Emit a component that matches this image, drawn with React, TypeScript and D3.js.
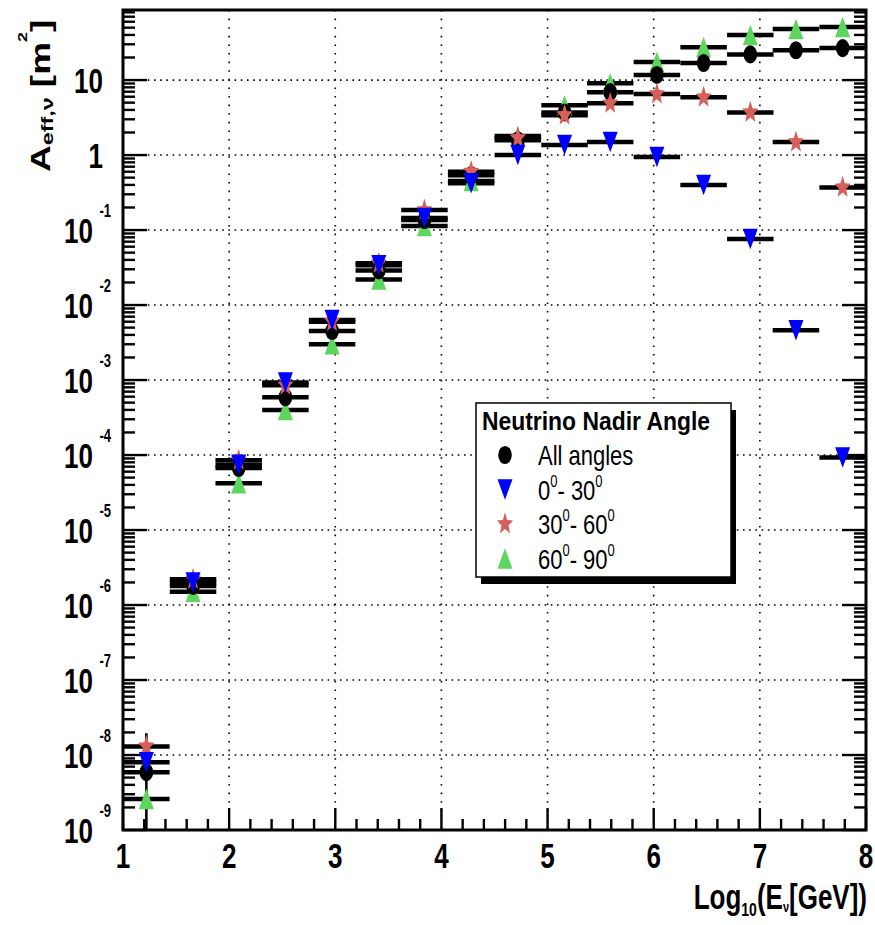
import React from "react";
import * as d3 from "d3";

// log10(E/GeV) bin centres, 16 bins between 1 and 8
const binCenters = [1.22, 1.66, 2.09, 2.53, 2.97, 3.41, 3.84, 4.28, 4.72, 5.16, 5.59, 6.03, 6.47, 6.91, 7.34, 7.78];
const binHalfWidth = 0.219;

// effective area [m^2]
const allAngles = [5.9e-9, 1.8e-6, 6.7e-5, 5.9e-4, 4.5e-3, 0.029, 0.136, 0.54, 1.58, 3.7, 6.9, 11.7, 16.9, 22, 25, 26.7];
const nadir0to30 = [8e-9, 2.0e-6, 7.4e-5, 9.3e-4, 6.3e-3, 0.034, 0.145, 0.42, 1.0, 1.36, 1.49, 0.94, 0.4, 0.076, 4.6e-3, 9.3e-5];
const nadir30to60 = [1.3e-8, 2.2e-6, 8.5e-5, 8.5e-4, 6.0e-3, 0.036, 0.185, 0.6, 1.69, 3.4, 4.9, 6.5, 5.9, 3.7, 1.49, 0.37];
const nadir60to90 = [2.6e-9, 1.5e-6, 4.2e-5, 4.0e-4, 3.0e-3, 0.022, 0.113, 0.45, 1.8, 4.6, 9.1, 17.4, 27.5, 40, 48, 51];

// vertical error bar visible on the first bin of "All angles"
const allErrBins = [{ bin: 0, lo: 1e-10, hi: 1.95e-8 }];

const xTicks = [1, 2, 3, 4, 5, 6, 7, 8];
const yDecades = [-9, -8, -7, -6, -5, -4, -3, -2, -1, 0, 1];

const W = 875;
const H = 925;
const left = 123;
const right = 866;
const top = 10;
const bottom = 830;
const SY = 1.37; // vertical stretch of the original picture
const FONT = "'Liberation Sans', Arial, Helvetica, sans-serif";
const RED = "#d65f59";
const GREEN = "#5cd65c";
const BLUE = "#0000ff";

const x = d3.scaleLinear().domain([1, 8]).range([left, right]);
const y = d3.scaleLog().domain([1e-9, 86]).range([bottom, top]);

type Shape = "circle" | "down" | "star" | "up";

function starPath(R: number, r: number) {
  const pts: string[] = [];
  for (let i = 0; i < 10; i++) {
    const a = -Math.PI / 2 + (i * Math.PI) / 5;
    const rad = i % 2 === 0 ? R : r;
    pts.push(`${(rad * Math.cos(a)).toFixed(2)},${(rad * Math.sin(a)).toFixed(2)}`);
  }
  return "M" + pts.join("L") + "Z";
}

function Marker({ shape, color, cx, cy }: { shape: Shape; color: string; cx: number; cy: number }) {
  const t = `translate(${cx},${cy}) scale(1,${SY})`;
  if (shape === "circle") return <ellipse transform={t} rx={6.8} ry={6.6} fill={color} />;
  if (shape === "down") return <path transform={t} d="M-7.5,-7.5L7.5,-7.5L0,7.5Z" fill={color} />;
  if (shape === "up") return <path transform={t} d="M-7.5,7.5L7.5,7.5L0,-7.5Z" fill={color} />;
  return <path transform={t} d={starPath(8.5, 3.7)} fill={color} />;
}

const series = [
  { name: "All angles", values: allAngles, color: "#000000", shape: "circle" as Shape },
  { name: "0-30", values: nadir0to30, color: BLUE, shape: "down" as Shape },
  { name: "30-60", values: nadir30to60, color: RED, shape: "star" as Shape },
  { name: "60-90", values: nadir60to90, color: GREEN, shape: "up" as Shape },
];
// drawing order of the markers
const drawOrder = [3, 0, 2, 1];

export default function App() {
  const xMinor = d3.range(1, 8.0001, 0.2).filter((v) => Math.abs(v - Math.round(v)) > 0.01);
  const yMinor: number[] = [];
  yDecades.forEach((e) => {
    for (let m = 2; m <= 9; m++) {
      const v = m * Math.pow(10, e);
      if (v <= 86) yMinor.push(v);
    }
  });

  return (
    <svg width={W} height={H} style={{ position: "absolute", left: 0, top: 0, background: "#fff" }} fontFamily={FONT}>
      <defs>
        <clipPath id="plot">
          <rect x={left} y={top} width={right - left} height={bottom - top} />
        </clipPath>
      </defs>
      <rect x={0} y={0} width={W} height={H} fill="#fff" />

      {/* grid */}
      <g stroke="#000" strokeWidth={1.6} fill="none">
        {yDecades.slice(1).map((e) => (
          <line key={"gy" + e} x1={left} x2={right} y1={y(Math.pow(10, e))} y2={y(Math.pow(10, e))} strokeDasharray="1.6 4.6" />
        ))}
        {xTicks.slice(1, -1).map((v) => (
          <line key={"gx" + v} x1={x(v)} x2={x(v)} y1={top} y2={bottom} strokeDasharray="1.6 7" />
        ))}
      </g>

      {/* ticks */}
      <g stroke="#000" strokeWidth={2.4}>
        {xTicks.map((v) => (
          <line key={"tx" + v} x1={x(v)} x2={x(v)} y1={bottom} y2={bottom - 22} />
        ))}
        {xMinor.map((v) => (
          <line key={"mx" + v} x1={x(v)} x2={x(v)} y1={bottom} y2={bottom - 11} />
        ))}
        {yDecades.map((e) => (
          <g key={"ty" + e}>
            <line x1={left} x2={left + 24} y1={y(Math.pow(10, e))} y2={y(Math.pow(10, e))} />
            <line x1={right} x2={right - 24} y1={y(Math.pow(10, e))} y2={y(Math.pow(10, e))} />
          </g>
        ))}
        {yMinor.map((v, i) => (
          <g key={"my" + i}>
            <line x1={left} x2={left + 12} y1={y(v)} y2={y(v)} />
            <line x1={right} x2={right - 12} y1={y(v)} y2={y(v)} />
          </g>
        ))}
      </g>

      {/* data */}
      <g clipPath="url(#plot)">
        {allErrBins.map((d) => (
          <line key={"err" + d.bin} x1={x(binCenters[d.bin])} x2={x(binCenters[d.bin])} y1={y(d.lo)} y2={y(d.hi)} stroke="#000" strokeWidth={2.6} />
        ))}
        {series.map((s) =>
          s.values.map((v, i) => (
            <line
              key={s.name + "b" + i}
              x1={x(binCenters[i] - binHalfWidth)}
              x2={x(binCenters[i] + binHalfWidth)}
              y1={y(v)}
              y2={y(v)}
              stroke="#000"
              strokeWidth={4.5}
            />
          ))
        )}
        {drawOrder.map((k) =>
          series[k].values.map((v, i) => (
            <Marker key={series[k].name + "m" + i} shape={series[k].shape} color={series[k].color} cx={x(binCenters[i])} cy={y(v)} />
          ))
        )}
      </g>

      {/* frame */}
      <path d={`M${left},${top}H${right}V${bottom}H${left}Z`} fill="none" stroke="#000" strokeWidth={3} />

      {/* y tick labels */}
      <g fontWeight="bold" fill="#000">
        {yDecades.map((e) => {
          const yy = y(Math.pow(10, e));
          if (e >= 0) {
            return (
              <text key={"ly" + e} transform={`translate(103,${yy + 13}) scale(1,${SY})`} fontSize={26} textAnchor="end">
                {e === 1 ? "10" : "1"}
              </text>
            );
          }
          return (
            <g key={"ly" + e}>
              <text transform={`translate(93,${yy + 13}) scale(1,${SY})`} fontSize={26} textAnchor="end">
                10
              </text>
              <text transform={`translate(111,${yy - 13}) scale(1,${SY})`} fontSize={13} textAnchor="end">
                {String(e)}
              </text>
            </g>
          );
        })}
        {xTicks.map((v) => (
          <text key={"lx" + v} transform={`translate(${x(v)},${868}) scale(1,${SY})`} fontSize={26} textAnchor="middle">
            {v}
          </text>
        ))}
      </g>

      {/* axis titles */}
      <text transform={`translate(50,172) rotate(-90) scale(${SY},1)`} fontWeight="bold" fontSize={27}>
        A
        <tspan fontSize={17} dy={3}>eff,ν</tspan>
        <tspan fontSize={27} dy={-3}> [m</tspan>
        <tspan fontSize={13} dy={-23}>2</tspan>
        <tspan fontSize={27} dy={23}>]</tspan>
      </text>
      <text transform={`translate(867,909) scale(1,${SY})`} fontWeight="bold" fontSize={26} textAnchor="end">
        Log
        <tspan fontSize={14} dy={5}>10</tspan>
        <tspan fontSize={26} dy={-5}>(E</tspan>
        <tspan fontSize={11} dy={2}>ν</tspan>
        <tspan fontSize={26} dy={-2}>[GeV])</tspan>
      </text>

      {/* legend */}
      <g>
        <rect x={481} y={410} width={255} height={174} fill="#000" />
        <rect x={476} y={403} width={255} height={174} fill="#fff" stroke="#000" strokeWidth={1.5} />
        <text transform={`translate(482,430) scale(1,1.15)`} fontWeight="bold" fontSize={22} textLength={228} lengthAdjust="spacingAndGlyphs">
          Neutrino Nadir Angle
        </text>
        {series.map((s, i) => {
          const ly = 455 + i * 34.5;
          return (
            <g key={"leg" + i}>
              <Marker shape={s.shape} color={s.color} cx={505} cy={ly} />
              {i === 0 ? (
                <text transform={`translate(538,${ly + 10}) scale(1,1.27)`} fontSize={22}>
                  All angles
                </text>
              ) : (
                <text transform={`translate(538,${ly + 10}) scale(1,1.27)`} fontSize={22}>
                  {s.name.split("-")[0]}
                  <tspan fontSize={13} dy={-10}>0</tspan>
                  <tspan fontSize={22} dy={10}>{"- " + s.name.split("-")[1]}</tspan>
                  <tspan fontSize={13} dy={-10}>0</tspan>
                </text>
              )}
            </g>
          );
        })}
      </g>
    </svg>
  );
}
